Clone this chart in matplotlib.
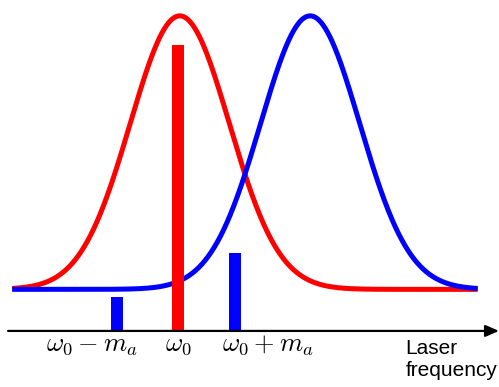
import matplotlib
matplotlib.use("Agg")
import matplotlib.pyplot as plt
import numpy as np

plt.rcParams["mathtext.fontset"] = "cm"

# frequencies in units of m_a, centred on the carrier omega_0
bar_freqs = [-1.03, 0.0, 0.97]
bar_heights = [0.125, 1.045, 0.285]
bar_colors = ["blue", "red", "blue"]
bar_labels = [r"$\omega_0 - m_a$", r"$\omega_0$", r"$\omega_0 + m_a$"]
label_pos = [-1.46, 0.0, 1.53]

# two resonance profiles (centre, width, offset, amplitude)
red_center, blue_center = 0.03, 2.24
sigma = 0.84
offset = 0.152
amplitude = 1.0
f_start, f_end = -2.81, 5.08

f = np.linspace(f_start, f_end, 600)
red_curve = offset + amplitude * np.exp(-(f - red_center) ** 2 / (2 * sigma**2))
blue_curve = offset + amplitude * np.exp(-(f - blue_center) ** 2 / (2 * sigma**2))

fig = plt.figure(figsize=(4.99, 3.87), dpi=100)
ax = fig.add_axes([0, 0, 1, 1])
ax.set_xlim(-3.017, 5.441)
ax.set_ylim(-0.205, 1.21)
ax.axis("off")

ax.plot(f, red_curve, color="red", lw=3.6, solid_capstyle="butt", zorder=2)
ax.plot(f, blue_curve, color="blue", lw=3.6, solid_capstyle="butt", zorder=2)

ax.bar(bar_freqs, bar_heights, width=0.2, color=bar_colors, zorder=3)

# frequency axis with arrow head
ax.annotate("", xy=(5.44, 0), xytext=(-2.88, 0),
            arrowprops=dict(arrowstyle="-|>,head_length=0.8,head_width=0.35",
                            color="black", lw=1.6, shrinkA=0, shrinkB=0),
            zorder=4)

for x, lab in zip(label_pos, bar_labels):
    ax.text(x, -0.048, lab, fontsize=19, ha="center", va="center")

ax.text(3.86, -0.104, "Laser\nfrequency", fontsize=15, ha="left", va="center",
        family="Liberation Sans", linespacing=1.25)

fig.savefig("out.png", dpi=100)
